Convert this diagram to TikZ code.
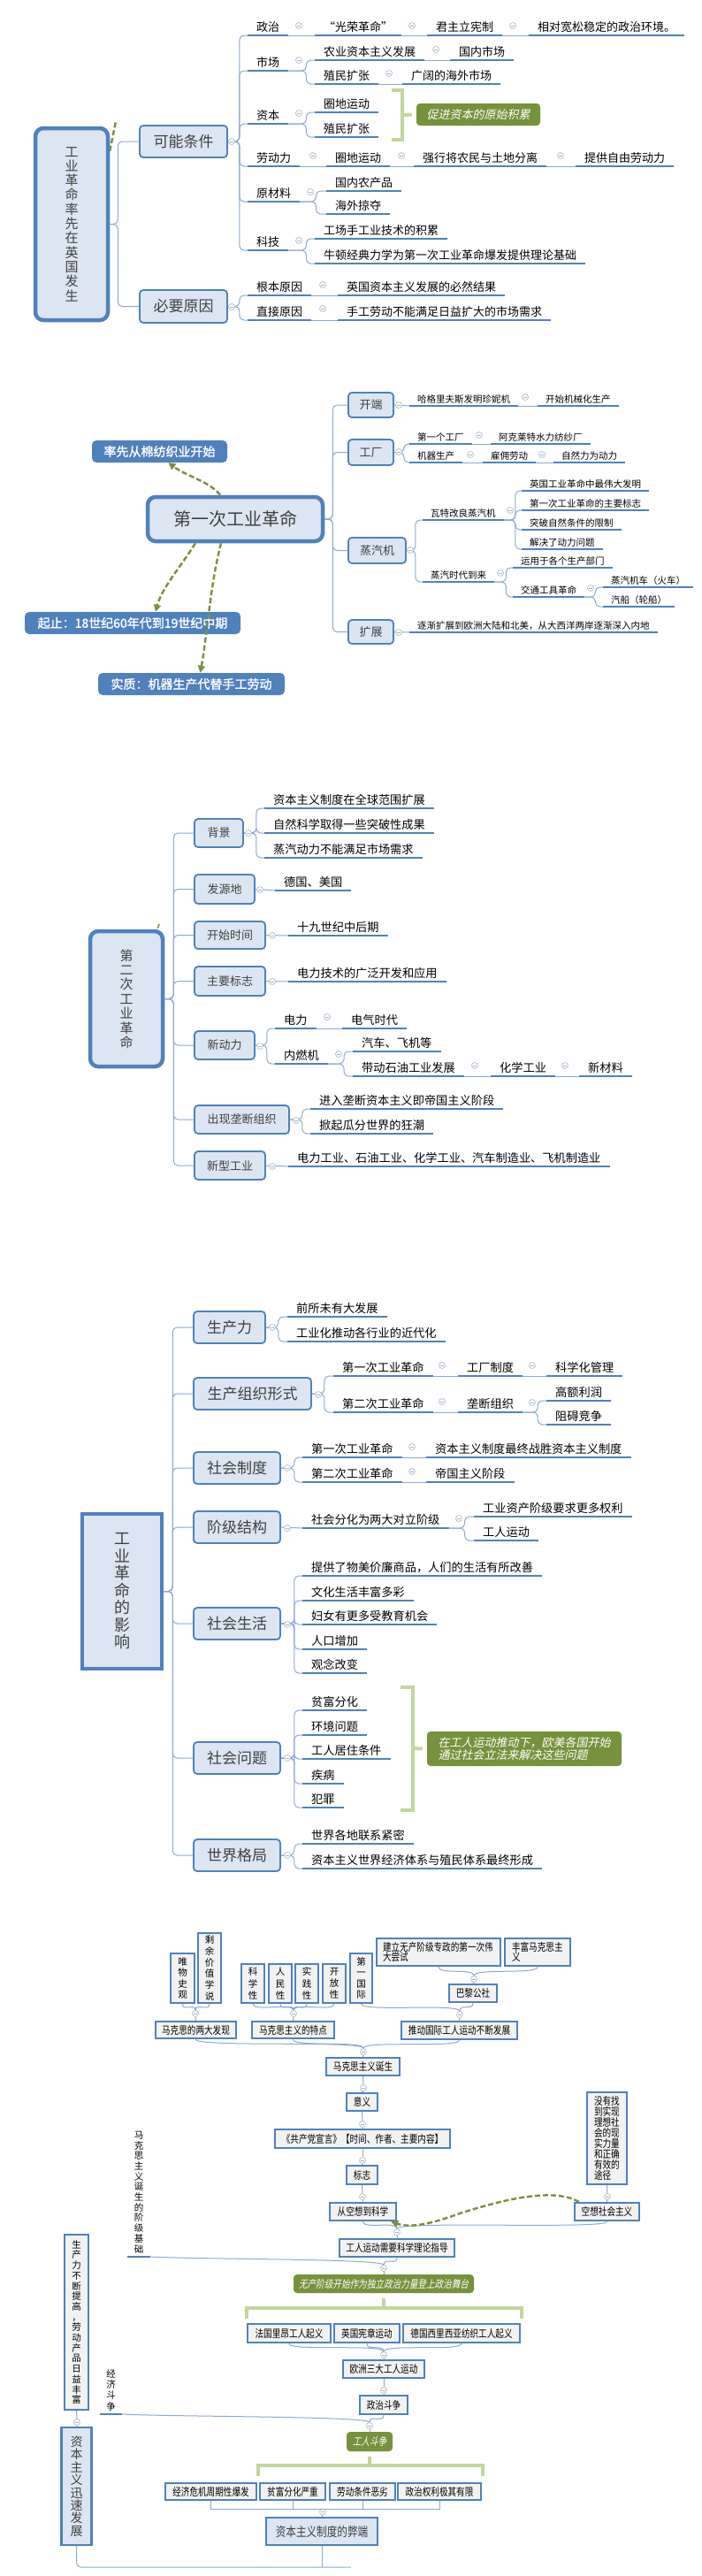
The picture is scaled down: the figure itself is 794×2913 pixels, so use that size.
\documentclass[tikz,border=0pt]{standalone}
\usepackage{fontspec}
\setmainfont{Noto Sans CJK SC}
\newfontfamily\cjkit[FakeSlant=0.2]{Noto Sans CJK SC}
\newfontfamily\cjkb[FakeBold=1.6]{Noto Sans CJK SC}
\newfontfamily\cjkn[FakeStretch=0.8]{Noto Sans CJK SC}
\newfontfamily\cjknit[FakeStretch=0.8,FakeSlant=0.2]{Noto Sans CJK SC}
\usetikzlibrary{arrows.meta}
\definecolor{ublue}{HTML}{4F81BD}
\definecolor{lblue}{HTML}{DCE6F2}
\definecolor{cline}{HTML}{8DA9D4}
\definecolor{cgray}{HTML}{A5B4CC}
\definecolor{ogreen}{HTML}{76923C}
\definecolor{brkc}{HTML}{C3D69B}
\definecolor{tgray}{HTML}{404040}
\definecolor{mgray}{HTML}{F2F2F2}
\tikzset{
 conn/.style={draw=cline, line width=1pt, rounded corners=5pt},
 conntwo/.style={draw=cline, line width=1pt},
 uline/.style={draw=ublue, line width=2.6pt},
 leafA/.style={anchor=south west, inner xsep=10pt, inner ysep=3pt, text=black, font=\fontsize{13}{15}\selectfont},
 leafB/.style={anchor=south west, inner xsep=9pt, inner ysep=2.5pt, text=black, font=\fontsize{10.5}{12}\selectfont},
 leafC/.style={anchor=south west, inner xsep=10pt, inner ysep=3pt, text=black, font=\fontsize{13.2}{15}\selectfont},
 tbox/.style={draw=ublue, fill=lblue, line width=1.8pt, rounded corners=4pt, inner sep=0pt, text=tgray},
 tboxS/.style={tbox, font=\fontsize{13}{15}\selectfont},
 tboxL/.style={tbox, font=\fontsize{17}{19}\selectfont},
 bigbox/.style={draw=ublue, fill=lblue, line width=4.5pt, rounded corners=9pt, inner sep=0pt, text=tgray, align=center},
 bcall/.style={fill=ublue, text=white, rounded corners=5pt, inner sep=0pt, font=\cjkb\fontsize{14}{16}\selectfont},
 gcall/.style={fill=ogreen, text=white, rounded corners=4pt, inner sep=0pt},
 brkline/.style={draw=brkc, line width=4pt},
 gdash/.style={draw=ogreen, line width=2.4pt, dash pattern=on 6pt off 3pt},
 garrow/.style={gdash, -{Triangle[length=8pt,width=8pt]}},
 mbox/.style={draw=ublue, fill=mgray, line width=2.4pt, inner sep=0pt, text=black, font=\cjkn\fontsize{12}{13}\selectfont},
 vtxt/.style={align=center, font=\fontsize{10.5}{12.2}\selectfont},
 cbtn/.style={circle, draw=cgray, fill=white, line width=0.6pt, minimum size=7pt, inner sep=0pt,
   path picture={\draw[cgray,line width=0.6pt] ([xshift=-2pt]path picture bounding box.center) -- ([xshift=2pt]path picture bounding box.center);}}
}
\newcounter{cbn}
\newcommand\cb[1]{\stepcounter{cbn}\node[cbtn] (cb\thecbn) at (#1) {};}
\newcommand\lf[4][leafA]{\node[#1] (#2) at (#3) {#4};\draw[uline] (#2.south west) -- (#2.south east);}
\newcommand\tc[2]{\draw[conntwo] (#1) .. controls +(0,9) and +(0,-9) .. (#2);}
\begin{document}
\begin{tikzpicture}[x=1pt,y=-1pt]
\useasboundingbox (0,0) rectangle (794,2913);
\fill[white] (0,0) rectangle (794,2913);

% ================= Section 1 =================
\node[bigbox, minimum width=82pt, minimum height=217pt, font=\fontsize{15}{16.3}\selectfont] (m1) at (81,253.5) {工\\业\\革\\命\\率\\先\\在\\英\\国\\发\\生};
\node[tboxL, minimum width=99pt, minimum height=36pt] (kn) at (207.5,160) {可能条件};
\node[tboxL, minimum width=99pt, minimum height=37pt] (by) at (207.5,346.5) {必要原因};
\draw[gdash] ([yshift=-28pt]m1.north east) -- ++(7,-35);

\lf{zz}{280,40}{政治}
\lf{grm}{356,40}{“光荣革命”}
\lf{jz}{483,40}{君主立宪制}
\lf{xd}{598,40}{相对宽松稳定的政治环境。}
\lf{sc}{280,80}{市场}
\lf{ny}{356,68}{农业资本主义发展}
\lf{gn}{509,68}{国内市场}
\lf{zmA}{356,95}{殖民扩张}
\lf{hw}{455,95}{广阔的海外市场}
\lf{zb}{280,140}{资本}
\lf{qdA}{356,127}{圈地运动}
\lf{zmB}{356,155}{殖民扩张}
\node[gcall, minimum width=140pt, minimum height=25pt, font=\cjkit\fontsize{13}{15}\selectfont] (cj) at (541,129.5) {促进资本的原始积累};
\lf{ldl}{280,188}{劳动力}
\lf{qdB}{369,188}{圈地运动}
\lf{qx}{468,188}{强行将农民与土地分离}
\lf{tg}{651,188}{提供自由劳动力}
\lf{ycl}{280,228}{原材料}
\lf{gnc}{369,216}{国内农产品}
\lf{hwl}{369,242}{海外掠夺}
\lf{kj}{280,283}{科技}
\lf{gcs}{356,270}{工场手工业技术的积累}
\lf{nd}{356,298}{牛顿经典力学为第一次工业革命爆发提供理论基础}
\lf{gb}{280,334}{根本原因}
\lf{bjA}{382,334}{英国资本主义发展的必然结果}
\lf{zj}{280,362}{直接原因}
\lf{sg}{382,362}{手工劳动不能满足日益扩大的市场需求}

\draw[conn] (m1.east) -- ++(9,0) |- (kn.west);
\draw[conn] (m1.east) -- ++(9,0) |- (by.west);
\foreach \n in {zz,sc,zb,ldl,ycl,kj} \draw[conn] (kn.east) -- ++(13,0) |- (\n.south west);
\foreach \n in {gb,zj} \draw[conn] (by.east) -- ++(13,0) |- (\n.south west);
\draw[conntwo] (zz.south east) -- (grm.south west);
\draw[conntwo] (grm.south east) -- (jz.south west);
\draw[conntwo] (jz.south east) -- (xd.south west);
\draw[conntwo] (ny.south east) -- (gn.south west);
\draw[conntwo] (zmA.south east) -- (hw.south west);
\draw[conntwo] (ldl.south east) -- (qdB.south west);
\draw[conntwo] (qdB.south east) -- (qx.south west);
\draw[conntwo] (qx.south east) -- (tg.south west);
\draw[conntwo] (gb.south east) -- (bjA.south west);
\draw[conntwo] (zj.south east) -- (sg.south west);
\foreach \n in {ny,zmA} \draw[conn] (sc.south east) -- ++(20,0) |- (\n.south west);
\foreach \n in {qdA,zmB} \draw[conn] (zb.south east) -- ++(20,0) |- (\n.south west);
\foreach \n in {gnc,hwl} \draw[conn] (ycl.south east) -- ++(18,0) |- (\n.south west);
\foreach \n in {gcs,nd} \draw[conn] (kj.south east) -- ++(20,0) |- (\n.south west);
\draw[brkline] (443,102) -- (455,102) -- (455,158) -- (443,158);
\draw[brkline] (455,130) -- ([xshift=-5pt]cj.west);

\cb{262,160} \cb{262,347} \cb{338,29} \cb{466,29} \cb{580,29} \cb{338,68} \cb{493,56} \cb{440,83}
\cb{338,128} \cb{354,176} \cb{454,176} \cb{634,176} \cb{351,217} \cb{338,272} \cb{365,322} \cb{365,349}

% ================= Section 2 =================
\node[bigbox, minimum width=198pt, minimum height=50pt, font=\fontsize{20}{22}\selectfont] (d1) at (266,587) {第一次工业革命};
\node[bcall, minimum width=153pt, minimum height=25pt] (bc1) at (180.5,510.5) {率先从棉纺织业开始};
\node[bcall, minimum width=244pt, minimum height=25pt] (bc2) at (150,704.5) {起止：18世纪60年代到19世纪中期};
\node[bcall, minimum width=211pt, minimum height=25pt] (bc3) at (216.5,773.5) {实质：机器生产代替手工劳动};
\draw[garrow] ([xshift=-17pt]d1.north) .. controls (238,545) and (210,538) .. ([xshift=10pt]bc1.south);
\draw[garrow] ([xshift=-45pt]d1.south) .. controls (205,640) and (183,665) .. ([xshift=26pt]bc2.north);
\draw[garrow] ([xshift=-16pt]d1.south) .. controls (238,660) and (234,720) .. ([xshift=10pt]bc3.north);

\node[tboxS, minimum width=51pt, minimum height=28pt] (kd) at (419.5,458) {开端};
\node[tboxS, minimum width=51pt, minimum height=29pt] (gc) at (419.5,511.5) {工厂};
\node[tboxS, minimum width=65pt, minimum height=29pt] (zq) at (426.5,622.5) {蒸汽机};
\node[tboxS, minimum width=51pt, minimum height=27pt] (kz) at (419.5,714.5) {扩展};
\foreach \n in {kd,gc,zq,kz} \draw[conn] (d1.east) -- ++(9,0) |- (\n.west);

\lf[leafB]{hg}{463,459}{哈格里夫斯发明珍妮机}
\lf[leafB]{ksj}{608,459}{开始机械化生产}
\lf[leafB]{dyg}{463,502}{第一个工厂}
\lf[leafB]{akl}{555,502}{阿克莱特水力纺纱厂}
\lf[leafB]{jq}{463,523}{机器生产}
\lf[leafB]{gy}{546,523}{雇佣劳动}
\lf[leafB]{zrl}{626,523}{自然力为动力}
\lf[leafB]{wt}{478,588}{瓦特改良蒸汽机}
\lf[leafB]{wd}{590,555}{英国工业革命中最伟大发明}
\lf[leafB]{zyb}{590,577}{第一次工业革命的主要标志}
\lf[leafB]{tp}{590,599}{突破自然条件的限制}
\lf[leafB]{jjdl}{590,621}{解决了动力问题}
\lf[leafB]{zqsd}{478,658}{蒸汽时代到来}
\lf[leafB]{yyA}{580,642}{运用于各个生产部门}
\lf[leafB]{jt}{580,675}{交通工具革命}
\lf[leafB]{hc}{682,664}{蒸汽机车（火车）}
\lf[leafB]{lc}{682,686}{汽船（轮船）}
\lf[leafB]{zjkz}{463,715}{逐渐扩展到欧洲大陆和北美，从大西洋两岸逐渐深入内地}

\draw[conntwo] (kd.east) -- (hg.south west);
\draw[conntwo] (hg.south east) -- (ksj.south west);
\foreach \n in {dyg,jq} \draw[conn] (gc.east) -- ++(11,0) |- (\n.south west);
\draw[conntwo] (dyg.south east) -- (akl.south west);
\draw[conntwo] (jq.south east) -- (gy.south west);
\draw[conntwo] (gy.south east) -- (zrl.south west);
\foreach \n in {wt,zqsd} \draw[conn] (zq.east) -- ++(10,0) |- (\n.south west);
\foreach \n in {wd,zyb,tp,jjdl} \draw[conn] (wt.south east) -- ++(13,0) |- (\n.south west);
\foreach \n in {yyA,jt} \draw[conn] (zqsd.south east) -- ++(13,0) |- (\n.south west);
\foreach \n in {hc,lc} \draw[conn] (jt.south east) -- ++(12,0) |- (\n.south west);
\draw[conntwo] (kz.east) -- (zjkz.south west);

\cb{451,458} \cb{594,449} \cb{451,511} \cb{542,492} \cb{532,514} \cb{613,514} \cb{464,622}
\cb{577,577} \cb{566,648} \cb{668,665} \cb{451,715}

% ================= Section 3 =================
\node[bigbox, minimum width=82pt, minimum height=153pt, font=\fontsize{15}{16.4}\selectfont] (m3) at (143,1129.5) {第\\二\\次\\工\\业\\革\\命};
\draw[ogreen, line width=1.5pt] ([xshift=-8pt,yshift=1pt]m3.north east) -- ++(2,-5);
\node[tboxS, minimum width=55pt, minimum height=32pt] (bj) at (247.5,942) {背景};
\node[tboxS, minimum width=68pt, minimum height=33pt] (fyd) at (254,1005.5) {发源地};
\node[tboxS, minimum width=80pt, minimum height=31pt] (ks) at (260,1057.5) {开始时间};
\node[tboxS, minimum width=80pt, minimum height=33pt] (zybz) at (260,1109.5) {主要标志};
\node[tboxS, minimum width=68pt, minimum height=32pt] (xdl) at (254,1182) {新动力};
\node[tboxS, minimum width=107pt, minimum height=32pt] (ldzz) at (273.5,1266) {出现垄断组织};
\node[tboxS, minimum width=80pt, minimum height=32pt] (xxgy) at (260,1318) {新型工业};
\foreach \n in {bj,fyd,ks,zybz,xdl,ldzz,xxgy} \draw[conn] (m3.east) -- ++(10,0) |- (\n.west);

\lf[leafC]{zbz}{299,914}{资本主义制度在全球范围扩展}
\lf[leafC]{zrkx}{299,942}{自然科学取得一些突破性成果}
\lf[leafC]{zqdl}{299,970}{蒸汽动力不能满足市场需求}
\foreach \n in {zbz,zrkx,zqdl} \draw[conn] (bj.east) -- ++(14,0) |- (\n.south west);
\lf[leafC]{dm}{311,1007}{德国、美国}
\draw[conntwo] (fyd.east) -- (dm.south west);
\lf[leafC]{sjs}{326,1058}{十九世纪中后期}
\draw[conntwo] (ks.east) -- (sjs.south west);
\lf[leafC]{dljs}{326,1110}{电力技术的广泛开发和应用}
\draw[conntwo] (zybz.east) -- (dljs.south west);
\lf[leafC]{dl}{311,1163}{电力}
\lf[leafC]{dqsd}{387,1163}{电气时代}
\lf[leafC]{nrj}{311,1203}{内燃机}
\lf[leafC]{qc}{399,1189}{汽车、飞机等}
\lf[leafC]{sy}{399,1217}{带动石油工业发展}
\lf[leafC]{hxgy}{555,1217}{化学工业}
\lf[leafC]{xcl}{655,1217}{新材料}
\foreach \n in {dl,nrj} \draw[conn] (xdl.east) -- ++(13,0) |- (\n.south west);
\draw[conntwo] (dl.south east) -- (dqsd.south west);
\foreach \n in {qc,sy} \draw[conn] (nrj.south east) -- ++(18,0) |- (\n.south west);
\draw[conntwo] (sy.south east) -- (hxgy.south west);
\draw[conntwo] (hxgy.south east) -- (xcl.south west);
\lf[leafC]{jrld}{351,1254}{进入垄断资本主义即帝国主义阶段}
\lf[leafC]{xq}{351,1282}{掀起瓜分世界的狂潮}
\foreach \n in {jrld,xq} \draw[conn] (ldzz.east) -- ++(14,0) |- (\n.south west);
\lf[leafC]{dlgy}{326,1319}{电力工业、石油工业、化学工业、汽车制造业、飞机制造业}
\draw[conntwo] (xxgy.east) -- (dlgy.south west);

\cb{281,942} \cb{294,1006} \cb{308,1058} \cb{308,1110} \cb{294,1183} \cb{370,1150} \cb{383,1192}
\cb{537,1205} \cb{639,1205} \cb{335,1267} \cb{308,1319}

% ================= Section 4 =================
\node[draw=ublue, fill=lblue, line width=4.5pt, inner sep=0pt, minimum width=90pt, minimum height=175pt, align=center, text=tgray, font=\fontsize{18}{19.5}\selectfont] (m4) at (138,1799.5) {工\\业\\革\\命\\的\\影\\响};
\node[tboxL, minimum width=81pt, minimum height=36pt] (scl) at (259.5,1501) {生产力};
\node[tboxL, minimum width=133pt, minimum height=36pt] (sczz) at (285.5,1576) {生产组织形式};
\node[tboxL, minimum width=98pt, minimum height=36pt] (shzd) at (268,1660) {社会制度};
\node[tboxL, minimum width=98pt, minimum height=36pt] (jjjg) at (268,1727) {阶级结构};
\node[tboxL, minimum width=98pt, minimum height=36pt] (shsh) at (268,1836) {社会生活};
\node[tboxL, minimum width=98pt, minimum height=36pt] (shwt) at (268,1988) {社会问题};
\node[tboxL, minimum width=98pt, minimum height=36pt] (sjgj) at (268,2098) {世界格局};
\foreach \n in {scl,sczz,shzd,jjjg,shsh,shwt,sjgj} \draw[conn] (m4.east) -- ++(10,0) |- (\n.west);

\lf[leafC]{qs}{325,1489}{前所未有大发展}
\lf[leafC]{gyh}{325,1517}{工业化推动各行业的近代化}
\foreach \n in {qs,gyh} \draw[conn] (scl.east) -- ++(14,0) |- (\n.south west);
\lf[leafC]{dya}{377,1556}{第一次工业革命}
\lf[leafC]{gczd}{518,1556}{工厂制度}
\lf[leafC]{kxh}{618,1556}{科学化管理}
\lf[leafC]{dea}{377,1597}{第二次工业革命}
\lf[leafC]{ldzb}{518,1597}{垄断组织}
\lf[leafC]{gelr}{618,1584}{高额利润}
\lf[leafC]{zajz}{618,1611}{阻碍竞争}
\foreach \n in {dya,dea} \draw[conn] (sczz.east) -- ++(14,0) |- (\n.south west);
\draw[conntwo] (dya.south east) -- (gczd.south west);
\draw[conntwo] (gczd.south east) -- (kxh.south west);
\draw[conntwo] (dea.south east) -- (ldzb.south west);
\foreach \n in {gelr,zajz} \draw[conn] (ldzb.south east) -- ++(17,0) |- (\n.south west);
\lf[leafC]{dyb}{342,1648}{第一次工业革命}
\lf[leafC]{zbzd}{482,1648}{资本主义制度最终战胜资本主义制度}
\lf[leafC]{deb}{342,1676}{第二次工业革命}
\lf[leafC]{dgzy}{482,1676}{帝国主义阶段}
\foreach \n in {dyb,deb} \draw[conn] (shzd.east) -- ++(15,0) |- (\n.south west);
\draw[conntwo] (dyb.south east) -- (zbzd.south west);
\draw[conntwo] (deb.south east) -- (dgzy.south west);
\lf[leafC]{shfh}{342,1728}{社会分化为两大对立阶级}
\draw[conntwo] (jjjg.east) -- (shfh.south west);
\lf[leafC]{gyzc}{536,1715}{工业资产阶级要求更多权利}
\lf[leafC]{gryd}{536,1742}{工人运动}
\foreach \n in {gyzc,gryd} \draw[conn] (shfh.south east) -- ++(18,0) |- (\n.south west);
\lf[leafC]{sA}{342,1782}{提供了物美价廉商品，人们的生活有所改善}
\lf[leafC]{sB}{342,1810}{文化生活丰富多彩}
\lf[leafC]{sC}{342,1837}{妇女有更多受教育机会}
\lf[leafC]{sD}{342,1865}{人口增加}
\lf[leafC]{sE}{342,1892}{观念改变}
\foreach \n in {sA,sB,sC,sD,sE} \draw[conn] (shsh.east) -- ++(15,0) |- (\n.south west);
\lf[leafC]{wA}{342,1934}{贫富分化}
\lf[leafC]{wB}{342,1962}{环境问题}
\lf[leafC]{wC}{342,1989}{工人居住条件}
\lf[leafC]{wD}{342,2017}{疾病}
\lf[leafC]{wE}{342,2044}{犯罪}
\foreach \n in {wA,wB,wC,wD,wE} \draw[conn] (shwt.east) -- ++(15,0) |- (\n.south west);
\node[gcall, minimum width=220pt, minimum height=39pt, align=left, font=\cjkit\fontsize{13}{13.5}\selectfont] (gcf) at (593,1977.5) {在工人运动推动下，欧美各国开始\\通过社会立法来解决这些问题};
\draw[brkline] (453,1908) -- (467,1908) -- (467,2047) -- (453,2047);
\draw[brkline] (467,1977) -- ([xshift=-5pt]gcf.west);
\lf[leafC]{gA}{342,2085}{世界各地联系紧密}
\lf[leafC]{gB}{342,2113}{资本主义世界经济体系与殖民体系最终形成}
\foreach \n in {gA,gB} \draw[conn] (sjgj.east) -- ++(15,0) |- (\n.south west);

\cb{308,1501} \cb{360,1577} \cb{500,1544} \cb{602,1544} \cb{500,1585} \cb{602,1586} \cb{325,1660}
\cb{466,1636} \cb{466,1664} \cb{325,1728} \cb{519,1717} \cb{325,1837} \cb{325,1988} \cb{325,2098}

% ================= Section 5 =================
\node[mbox, vtxt, minimum width=27pt, minimum height=56pt] (wws) at (206.5,2237) {唯\\物\\史\\观};
\node[mbox, vtxt, minimum width=26pt, minimum height=79pt, font=\fontsize{10.5}{12.7}\selectfont] (syjz) at (237,2225.5) {剩\\余\\价\\值\\学\\说};
\node[mbox, minimum width=91pt, minimum height=19pt] (lfx) at (221.5,2295.5) {马克思的两大发现};
\node[mbox, vtxt, minimum width=26pt, minimum height=44pt, font=\fontsize{10.5}{13.3}\selectfont] (kxx) at (286,2243) {科\\学\\性};
\node[mbox, vtxt, minimum width=26pt, minimum height=44pt, font=\fontsize{10.5}{13.3}\selectfont] (rmx) at (317,2243) {人\\民\\性};
\node[mbox, vtxt, minimum width=26pt, minimum height=44pt, font=\fontsize{10.5}{13.3}\selectfont] (sjx) at (347,2243) {实\\践\\性};
\node[mbox, vtxt, minimum width=26pt, minimum height=44pt, font=\fontsize{10.5}{13.3}\selectfont] (kfx) at (378,2243) {开\\放\\性};
\node[mbox, minimum width=93pt, minimum height=19pt] (tdx) at (331.5,2295.5) {马克思主义的特点};
\node[mbox, vtxt, minimum width=25pt, minimum height=56pt] (dygj) at (408.5,2237) {第\\一\\国\\际};
\node[mbox, minimum width=140pt, minimum height=31pt, text width=126pt, align=left, font=\cjkn\fontsize{12}{11.5}\selectfont] (jl) at (496,2207.5) {建立无产阶级专政的第一次伟\\大尝试};
\node[mbox, minimum width=74pt, minimum height=31pt, text width=58pt, align=left, font=\cjkn\fontsize{12}{11.5}\selectfont] (fy) at (608,2207.5) {丰富马克思主\\义};
\node[mbox, minimum width=54pt, minimum height=20pt] (blgs) at (535,2254) {巴黎公社};
\node[mbox, minimum width=131pt, minimum height=20pt] (tdgj) at (519.5,2296) {推动国际工人运动不断发展};
\node[mbox, minimum width=83pt, minimum height=20pt] (dans) at (410.5,2337) {马克思主义诞生};
\node[mbox, minimum width=35pt, minimum height=20pt] (yy) at (409.5,2377) {意义};
\node[mbox, minimum width=198pt, minimum height=21pt] (gcdxy) at (410,2418.5) {《共产党宣言》【时间、作者、主要内容】};
\node[mbox, minimum width=35pt, minimum height=21pt] (bz) at (409.5,2459.5) {标志};
\node[mbox, minimum width=75pt, minimum height=20pt] (ckd) at (410.5,2501) {从空想到科学};
\node[mbox, minimum width=73pt, minimum height=20pt] (kxsh) at (686.5,2501) {空想社会主义};
\node[mbox, minimum width=45pt, minimum height=104pt, text width=29pt, align=left, font=\cjkn\fontsize{12}{12.1}\selectfont] (myzd) at (686.5,2418) {没有找\\到实现\\理想社\\会的现\\实力量\\和正确\\有效的\\途径};
\node[mbox, minimum width=130pt, minimum height=20pt] (grsy) at (449,2542) {工人运动需要科学理论指导};
\node[vtxt, anchor=south, inner xsep=7.5pt, inner ysep=4pt, font=\fontsize{10.5}{11.7}\selectfont] (jjjc) at (157,2552) {马\\克\\思\\主\\义\\诞\\生\\的\\阶\\级\\基\\础};
\draw[uline] (jjjc.south west) -- (jjjc.south east);
\node[gcall, minimum width=204pt, minimum height=21pt, font=\cjknit\fontsize{12}{13}\selectfont] (wcjj) at (434,2582.5) {无产阶级开始作为独立政治力量登上政治舞台};
\node[mbox, minimum width=94pt, minimum height=21pt] (fglr) at (327,2638.5) {法国里昂工人起义};
\node[mbox, minimum width=74pt, minimum height=21pt] (ygxz) at (415,2638.5) {英国宪章运动};
\node[mbox, minimum width=132pt, minimum height=21pt] (dgxl) at (522,2638.5) {德国西里西亚纺织工人起义};
\node[mbox, minimum width=92pt, minimum height=20pt] (oz) at (434,2679) {欧洲三大工人运动};
\node[mbox, minimum width=54pt, minimum height=21pt] (zzdz) at (434,2719.5) {政治斗争};
\node[vtxt, anchor=south, inner xsep=7.5pt, inner ysep=4pt, font=\fontsize{10.5}{12.3}\selectfont] (jjdz) at (125.5,2730) {经\\济\\斗\\争};
\draw[uline] (jjdz.south west) -- (jjdz.south east);
\node[mbox, vtxt, minimum width=27pt, minimum height=198pt, font=\fontsize{10.5}{11.7}\selectfont] (sclb) at (86.5,2626) {生\\产\\力\\不\\断\\提\\高\\，\\劳\\动\\产\\品\\日\\益\\丰\\富};
\node[mbox, fill=lblue, align=center, text=tgray, minimum width=34pt, minimum height=133pt, font=\fontsize{14}{14.4}\selectfont] (zbzy) at (86.5,2811.5) {资\\本\\主\\义\\迅\\速\\发\\展};
\node[gcall, minimum width=52pt, minimum height=22pt, font=\cjknit\fontsize{12}{13}\selectfont] (grdz) at (418,2761) {工人斗争};
\node[mbox, minimum width=103pt, minimum height=19pt] (jjwj) at (238.5,2817.5) {经济危机周期性爆发};
\node[mbox, minimum width=74pt, minimum height=19pt] (pfqz) at (331,2817.5) {贫富分化严重};
\node[mbox, minimum width=74pt, minimum height=19pt] (ldtj) at (410,2817.5) {劳动条件恶劣};
\node[mbox, minimum width=94pt, minimum height=19pt] (zzql) at (497,2817.5) {政治权利极其有限};
\node[mbox, fill=lblue, text=tgray, minimum width=126pt, minimum height=31pt, font=\cjkn\fontsize{14.5}{16}\selectfont] (bd) at (364,2862.5) {资本主义制度的弊端};
\coordinate (endp) at (397,2903);

% junction buttons
\node[cbtn] (qa) at (221,2277) {};
\node[cbtn] (qb) at (332,2277) {};
\node[cbtn] (qc) at (536,2238) {};
\node[cbtn] (qd) at (520,2278) {};
\node[cbtn] (qe) at (411,2320) {};
\node[cbtn] (qf) at (411,2361) {};
\node[cbtn] (qg) at (410,2402) {};
\node[cbtn] (qh) at (410,2443) {};
\node[cbtn] (qi) at (410,2484) {};
\node[cbtn] (qj) at (687,2484) {};
\node[cbtn] (qk) at (449,2524) {};
\node[cbtn] (ql) at (434,2565) {};
\node[cbtn] (qm) at (434,2663) {};
\node[cbtn] (qn) at (434,2703) {};
\node[cbtn] (qo) at (418,2743) {};
\node[cbtn] (qp) at (365,2840.5) {};
\node[cbtn] (qq) at (87,2739) {};

\tc{wws.south}{qa.north} \tc{syjz.south}{qa.north}
\draw[conntwo] (qa.south) -- (lfx.north);
\foreach \n in {kxx,rmx,sjx,kfx} {\tc{\n.south}{qb.north}}
\draw[conntwo] (qb.south) -- (tdx.north);
\tc{jl.south}{qc.north} \tc{fy.south}{qc.north}
\draw[conntwo] (qc.south) -- (blgs.north);
\tc{dygj.south}{qd.north} \tc{blgs.south}{qd.north}
\draw[conntwo] (qd.south) -- (tdgj.north);
\tc{lfx.south}{qe.north} \tc{tdx.south}{qe.north} \tc{tdgj.south}{qe.north}
\draw[conntwo] (qe.south) -- (dans.north);
\draw[conntwo] (dans.south) -- (qf.north); \draw[conntwo] (qf.south) -- (yy.north);
\draw[conntwo] (yy.south) -- (qg.north); \draw[conntwo] (qg.south) -- (gcdxy.north);
\draw[conntwo] (gcdxy.south) -- (qh.north); \draw[conntwo] (qh.south) -- (bz.north);
\draw[conntwo] (bz.south) -- (qi.north); \draw[conntwo] (qi.south) -- (ckd.north);
\draw[conntwo] (myzd.south) -- (qj.north); \draw[conntwo] (qj.south) -- (kxsh.north);
\tc{ckd.south}{qk.north} \tc{kxsh.south}{qk.north}
\draw[conntwo] (qk.south) -- (grsy.north);
\tc{grsy.south}{ql.north}
\draw[conntwo] (jjjc.south east) .. controls +(60,3) and +(0,-7) .. (ql.north);
\draw[conntwo] (ql.south) -- (wcjj.north);
\draw[brkline] ([yshift=-6pt]wcjj.south) -- ++(0,11);
\draw[brkline] (279,2622) -- (279,2610) -- (590,2610) -- (590,2622);
\tc{fglr.south}{qm.north} \tc{ygxz.south}{qm.north} \tc{dgxl.south}{qm.north}
\draw[conntwo] (qm.south) -- (oz.north);
\draw[conntwo] (oz.south) -- (qn.north); \draw[conntwo] (qn.south) -- (zzdz.north);
\tc{zzdz.south}{qo.north}
\draw[conntwo] (jjdz.south east) .. controls +(60,3) and +(0,-7) .. (qo.north);
\draw[conntwo] (qo.south) -- (grdz.north);
\draw[brkline] ([yshift=-6pt]grdz.south) -- ++(0,10);
\draw[brkline] (292,2800) -- (292,2788) -- (546,2788) -- (546,2800);
\draw[conntwo] (jjwj.south) -- ++(0,9) -| (zzql.south);
\draw[conntwo] (pfqz.south) -- ++(0,9);
\draw[conntwo] (ldtj.south) -- ++(0,9);
\draw[conntwo] (qp.south) -- (bd.north);
\draw[conntwo] (sclb.south) -- (qq.north); \draw[conntwo] (qq.south) -- (zbzy.north);
\draw[conn] (zbzy.south) |- (endp);
\draw[conntwo] (bd.south) -- (bd.south |- endp);
\draw[garrow] ([xshift=6pt]kxsh.north west) .. controls (630,2476) and (585,2482) .. (520,2503) .. controls (490,2514) and (465,2520) .. ([xshift=-7pt]ckd.south east);
\end{tikzpicture}
\end{document}
